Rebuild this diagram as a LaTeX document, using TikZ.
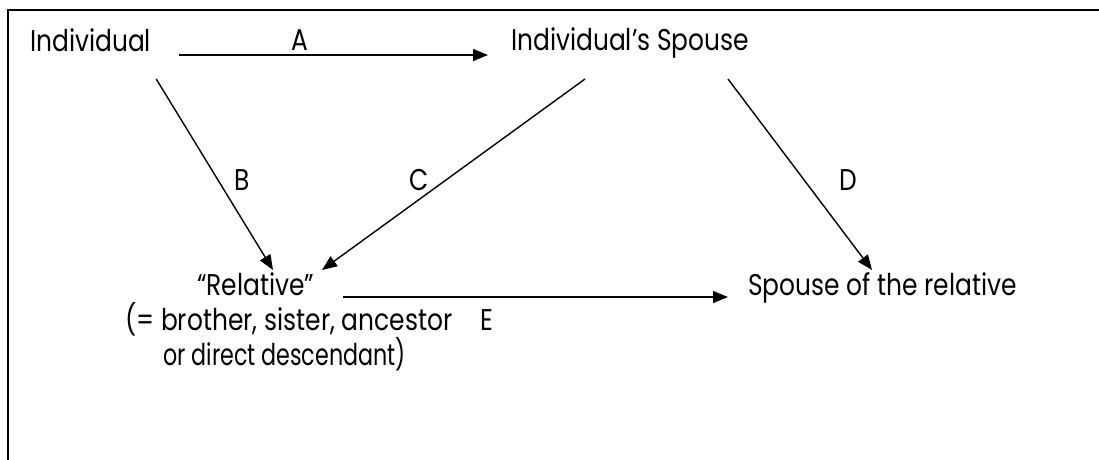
\documentclass[tikz,border=0pt]{standalone}
\usepackage{fontspec}
\setmainfont{Poppins}[FakeStretch=0.83]
\usetikzlibrary{arrows.meta}
\tikzset{
  txt/.style={inner sep=0pt, font=\fontsize{30}{36}\selectfont, anchor=base west},
  small/.style={inner sep=0pt, font=\fontsize{30}{36}\selectfont, anchor=base west},
  narrow/.style={inner sep=0pt, font=\fontsize{30}{36}\selectfont\addfontfeature{FakeStretch=0.74}, anchor=base west},
  lbl/.style={inner sep=0pt, font=\fontsize{30}{36}\selectfont, anchor=base},
  arr/.style={line width=1.4pt, -{Triangle[length=15pt,width=12pt]}},
  frame/.style={line width=2pt}
}
\begin{document}
\begin{tikzpicture}[x=1pt,y=-1pt]
\useasboundingbox (0,0) rectangle (1099,459);
\coordinate (fbl) at (8,470);
\coordinate (ftl) at (8,10);
\coordinate (ftr) at (1110,10);
\draw[frame] (fbl) -- (ftl) -- (ftr);
\node[txt] (ind) at (30,51) {Individual};
\node[txt] (isp) at (511,50) {Individual’s Spouse};
\node[txt] (rel) at (197,295) {“Relative”};
\node[small] (rel2) at (125,330) {(= brother, sister, ancestor};
\node[narrow] (rel3) at (163,365) {or direct descendant)};
\node[txt] (srel) at (748,295) {Spouse of the relative};
\node[lbl] (la) at (300,50) {A};
\node[lbl] (lb) at (242,190) {B};
\node[lbl] (lc) at (419,190) {C};
\node[lbl] (ld) at (848,190) {D};
\node[lbl] (le) at (487,330) {E};
\draw[arr] ([xshift=28pt,yshift=-4pt]ind.base east) -- ([xshift=-23pt,yshift=-5pt]isp.base west);
\draw[arr] ([xshift=5pt,yshift=-28pt]ind.base east) -- ([xshift=76pt,yshift=25pt]rel.base west);
\draw[arr] ([xshift=74pt,yshift=-29pt]isp.base west) -- ([xshift=125pt,yshift=25pt]rel.base west);
\draw[arr] ([xshift=217pt,yshift=-29pt]isp.base west) -- ([xshift=124pt,yshift=25pt]srel.base west);
\draw[arr] ([xshift=146pt,yshift=-2pt]rel.base west) -- ([xshift=-20pt,yshift=-2pt]srel.base west);
\end{tikzpicture}
\end{document}
